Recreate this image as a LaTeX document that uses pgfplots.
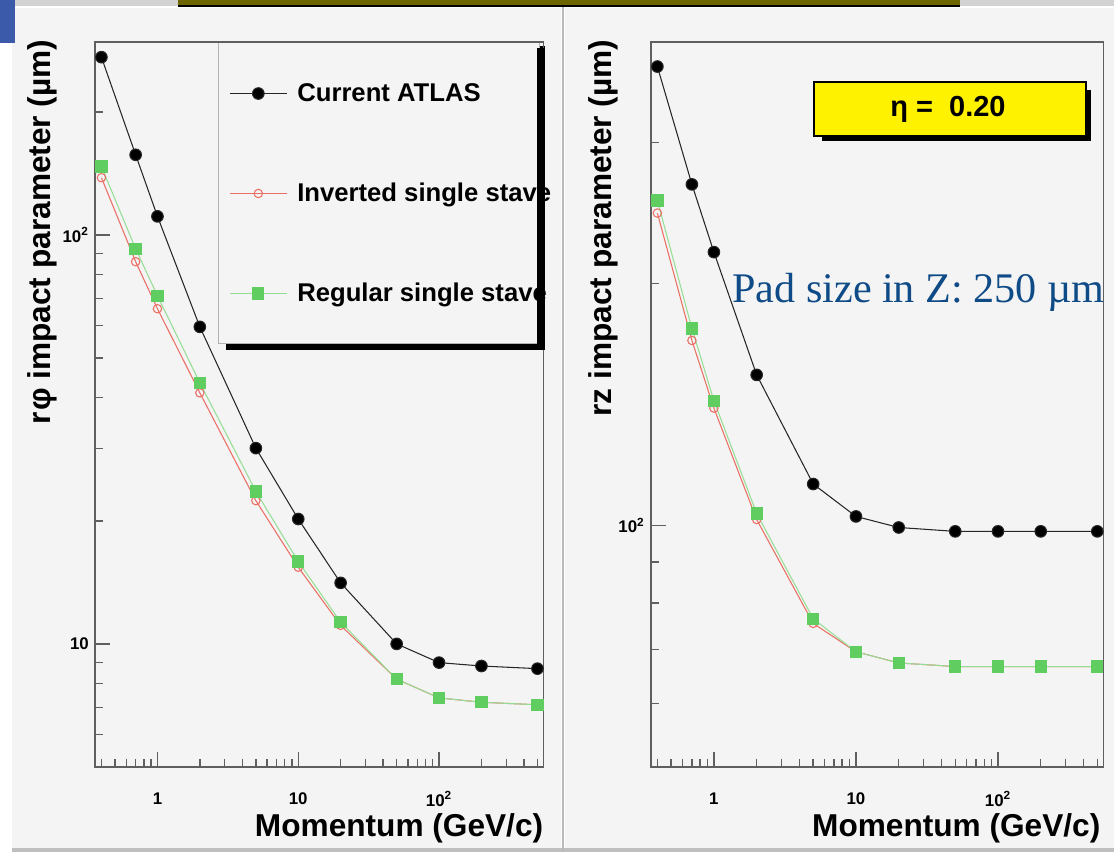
\documentclass[border=0pt]{standalone}
\usepackage{pgfplots}
\usepackage{pgfplotstable}
\pgfplotsset{compat=1.18}
\usepackage{fontspec}
\setmainfont{Liberation Sans}
\newfontfamily\timesfont{Liberation Serif}

\definecolor{panel}{RGB}{244,244,244}
\definecolor{framegray}{RGB}{95,95,95}
\definecolor{sqgreen}{RGB}{95,205,95}
\definecolor{lngreen}{RGB}{150,222,150}
\definecolor{invred}{RGB}{235,110,100}
\definecolor{padblue}{RGB}{15,75,135}
\definecolor{slideblue}{RGB}{60,90,170}
\definecolor{olivebar}{RGB}{110,100,0}

% longer legend sample line, mark in the middle (as in ROOT)
\pgfplotsset{legend image code/.code={\draw[mark repeat=2,mark phase=2,#1] plot coordinates {(0cm,0cm) (0.57cm,0cm) (1.14cm,0cm)};}}

% momentum (GeV/c) vs impact parameter resolution (um), eta = 0.20
\pgfplotstableread{
p    atlas  inv    reg
0.4  272    138    147
0.7  157    86     92.5
1    111    66     71
2    59.6   41.1   43.5
5    30.1   22.4   23.6
10   20.2   15.4   15.9
20   14.1   11.1   11.3
50   10.0   8.2    8.2
100  9.0    7.38   7.38
200  8.83   7.2    7.2
500  8.7    7.1    7.1
}\rphitab
\pgfplotstableread{
p    atlas  inv    reg
0.4  373    245    254
0.7  266    170    176
1    219    140    143
2    154    101.7  103.5
5    112.6  75.5   76.5
10   102.6  69.6   69.6
20   99.4   67.4   67.4
50   98.3   66.7   66.7
100  98.3   66.7   66.7
200  98.3   66.7   66.7
500  98.3   66.7   66.7
}\rztab

\begin{document}
\begin{tikzpicture}
% slide background and panels (1 unit = 1 px of the reference)
\begin{scope}[x=0.02cm, y=0.02cm]
\fill[white] (0,0) rectangle (1114,852);
\fill[panel] (12,4) rectangle (561,844);
\fill[panel] (565,4) rectangle (1114,844);
\fill[gray!35] (12,846) rectangle (1114,852);
\fill[gray!50] (12,0) rectangle (1114,4);
\draw[gray!55, line width=0.04cm] (563,0) -- (563,846);
\fill[slideblue] (0,809) rectangle (15,852);
\fill[olivebar] (178,846) rectangle (960,852);
\draw[black, line width=0.04cm] (178,846) -- (960,846);
% legend box with shadow
\fill[black] (226,502) rectangle (545,806);
\filldraw[fill=panel, draw=gray!60, line width=0.02cm] (218,509) rectangle (539,810);
\end{scope}

% left: r-phi
\begin{axis}[
  at={(1.9cm,1.7cm)}, anchor=south west,
  scale only axis, width=8.972cm, height=14.5cm,
  xmode=log, ymode=log,
  xmin=0.36, xmax=552, ymin=5, ymax=296,
  axis line style={framegray, line width=1pt},
  tick align=inside, xtick pos=bottom, ytick pos=left,
  tick style={framegray, line width=0.8pt},
  major tick length=0.3cm, minor tick length=0.16cm,
  xtick={1,10,100}, xticklabels={1,10,{10\textsuperscript{2}}},
  minor xtick={0.4,0.5,0.6,0.7,0.8,0.9,2,3,4,5,6,7,8,9,20,30,40,50,60,70,80,90,200,300,400,500},
  ytick={10,100}, yticklabels={10,{10\textsuperscript{2}}},
  minor ytick={6,7,8,9,20,30,40,50,60,70,80,90,200},
  ticklabel style={font=\fontsize{9.6}{10}\selectfont\bfseries},
  xticklabel style={anchor=center, yshift=-0.64cm},
  xlabel={Momentum (GeV/c)},
  ylabel={r\kern0.05em φ impact parameter (µm)},
  label style={font=\fontsize{18}{20}\selectfont\bfseries, inner sep=0pt},
  xlabel style={at={(axis description cs:1,-0.085)}, anchor=east},
  ylabel style={at={(axis description cs:-0.118,1.004)}, anchor=east},
  legend cell align=left,
  legend style={draw=none, fill=none, inner sep=0pt, anchor=north west,
    at={(axis description cs:0.2987,0.9986)}, column sep=0.2cm,
    nodes={inner sep=0pt, minimum height=2cm, font=\fontsize{14.6}{16}\selectfont\bfseries}},
]
\addplot[black!85, line width=0.6pt, mark=*, mark size=3.3pt, mark options={fill=black}] table[x=p, y=atlas] {\rphitab};
\addlegendentry{Current ATLAS}
\addplot[invred, line width=0.6pt, mark=o, mark size=2.4pt] table[x=p, y=inv] {\rphitab};
\addlegendentry{Inverted single stave}
\addplot[lngreen, line width=0.6pt, mark=square*, mark size=3.2pt, mark options={sqgreen, fill=sqgreen}] table[x=p, y=reg] {\rphitab};
\addlegendentry{Regular single stave}
\end{axis}

% right: rz
\begin{axis}[
  at={(13.02cm,1.7cm)}, anchor=south west,
  scale only axis, width=9.052cm, height=14.5cm,
  xmode=log, ymode=log,
  xmin=0.36, xmax=552, ymin=50, ymax=400,
  axis line style={framegray, line width=1pt},
  tick align=inside, xtick pos=bottom, ytick pos=left,
  tick style={framegray, line width=0.8pt},
  major tick length=0.3cm, minor tick length=0.16cm,
  xtick={1,10,100}, xticklabels={1,10,{10\textsuperscript{2}}},
  minor xtick={0.4,0.5,0.6,0.7,0.8,0.9,2,3,4,5,6,7,8,9,20,30,40,50,60,70,80,90,200,300,400,500},
  ytick={100}, yticklabels={{10\textsuperscript{2}}},
  minor ytick={60,70,80,90,200,300},
  ticklabel style={font=\fontsize{9.6}{10}\selectfont\bfseries},
  xticklabel style={anchor=center, yshift=-0.64cm},
  xlabel={Momentum (GeV/c)},
  ylabel={rz impact parameter (µm)},
  label style={font=\fontsize{18}{20}\selectfont\bfseries, inner sep=0pt},
  xlabel style={at={(axis description cs:0.994,-0.085)}, anchor=east},
  ylabel style={at={(axis description cs:-0.104,1.004)}, anchor=east},
]
\addplot[black!85, line width=0.6pt, mark=*, mark size=3.3pt, mark options={fill=black}] table[x=p, y=atlas] {\rztab};
\addplot[invred, line width=0.6pt, mark=o, mark size=2.4pt] table[x=p, y=inv] {\rztab};
\addplot[lngreen, line width=0.6pt, mark=square*, mark size=3.2pt, mark options={sqgreen, fill=sqgreen}] table[x=p, y=reg] {\rztab};
\end{axis}

\begin{scope}[x=0.02cm, y=0.02cm]
% legend shadow over the clipped text end
\fill[black] (537,502) rectangle (544,804);
% eta box
\fill[black] (822,711) rectangle (1091,762);
\filldraw[fill=yellow, draw=black, line width=0.03cm] (814,716) rectangle (1086,770);
\node[font=\fontsize{16.5}{18}\selectfont\bfseries] at (948,743) {η =\ \ 0.20};
\node[anchor=base west, inner sep=0pt, text=padblue, font=\timesfont\fontsize{24}{28}\selectfont] at (732,550) {Pad size in Z: 250 µm};
\end{scope}
\end{tikzpicture}
\end{document}
